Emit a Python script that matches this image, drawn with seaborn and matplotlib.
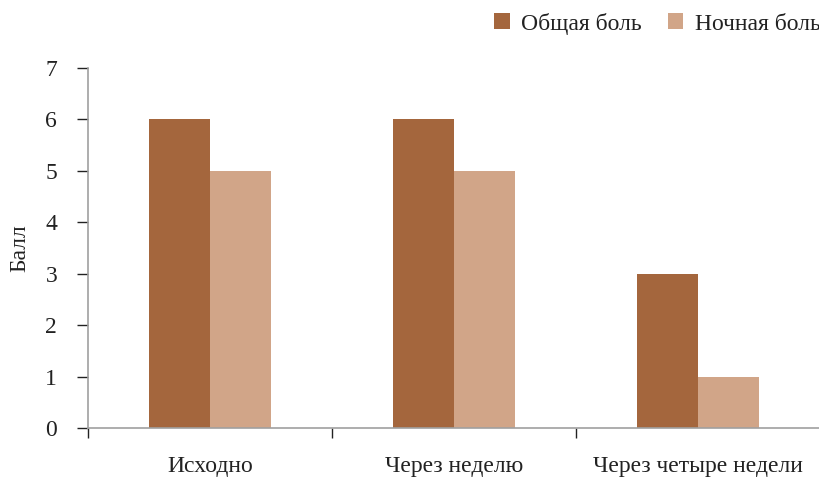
import matplotlib
matplotlib.use('Agg')
import matplotlib.pyplot as plt
import seaborn as sns
import pandas as pd

categories = ['Исходно', 'Через неделю', 'Через четыре недели']
general_pain = [6, 6, 3]
night_pain = [5, 5, 1]
series_names = ['Общая боль', 'Ночная боль']
colors = ['#A4663D', '#D1A588']

df = pd.DataFrame({
    'Период': categories * 2,
    'Балл': general_pain + night_pain,
    'Серия': [series_names[0]] * 3 + [series_names[1]] * 3,
})

sns.set_style('white')
plt.rcParams['font.family'] = ['Liberation Serif', 'DejaVu Serif']

fig = plt.figure(figsize=(8.2, 4.79), dpi=100)
ax = fig.add_axes([0.107, 0.106, 0.893, 0.752])

sns.barplot(data=df, x='Период', y='Балл', hue='Серия', palette=colors,
            width=0.5, saturation=1, linewidth=0, ax=ax, legend=True)

ax.set_xlim(-0.5, 2.5)
ax.set_ylim(0, 7)
ax.set_yticks(range(0, 8))
ax.set_xticks([0, 1, 2])
ax.set_xticks([-0.5, 0.5, 1.5, 2.5], minor=True)
ax.tick_params(axis='x', which='major', length=0, pad=20, labelsize=17, colors='#222222')
ax.tick_params(axis='x', which='minor', length=7, width=1, color='#222222', direction='out', bottom=True)
ax.tick_params(axis='y', length=8, width=1, color='#222222', direction='out', left=True,
               labelsize=17, labelcolor='#222222', pad=14)
ax.set_xlabel('')
ax.set_ylabel('Балл', fontsize=17, color='#222222', labelpad=11)

for side in ['top', 'right']:
    ax.spines[side].set_visible(False)
for side in ['left', 'bottom']:
    ax.spines[side].set_color('#A0A0A0')
    ax.spines[side].set_linewidth(1.2)

handles, labels = ax.get_legend_handles_labels()
ax.legend_.remove()
fig.legend(handles, labels, loc='upper right', bbox_to_anchor=(1.027, 1.018), ncol=2,
           frameon=False, fontsize=17, handlelength=0.65, handleheight=0.65,
           handletextpad=0.5, columnspacing=1.1, labelcolor='#222222')

fig.savefig('out.png', dpi=100)
